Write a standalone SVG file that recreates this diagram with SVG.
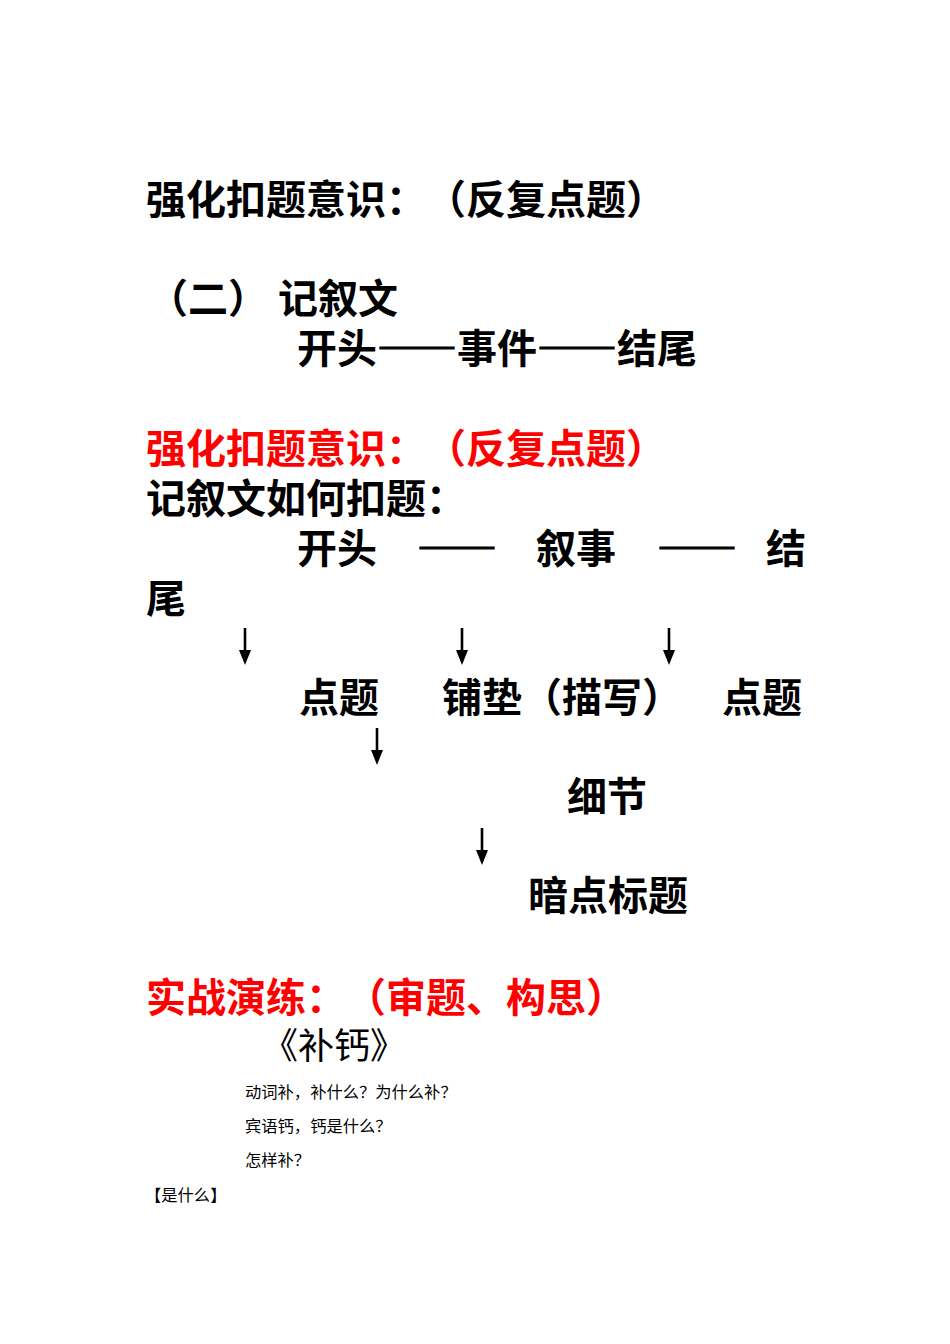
<svg xmlns="http://www.w3.org/2000/svg" width="950" height="1344" viewBox="0 0 950 1344" xml:lang="zh-CN" lang="zh-CN">
<style>
text{text-spacing-trim:space-all;font-kerning:none}
.h{font-family:"Noto Sans CJK SC","Noto Sans CJK JP",sans-serif;font-size:40px;font-weight:700;fill:#000}
.r{fill:#ff0000}
.d{stroke:#000;stroke-width:1.2}
.t{font-family:"Noto Sans CJK SC","Noto Sans CJK JP",sans-serif;font-size:36px;font-weight:400;fill:#000}
.s{font-family:"Noto Sans CJK SC","Noto Sans CJK JP",sans-serif;font-size:16.3px;font-weight:400;fill:#000}
.a{stroke:#000;stroke-width:2.6;fill:none}
</style>
<defs>
<marker id="ah" viewBox="0 0 15 12" refX="0" refY="6" markerWidth="15" markerHeight="12" markerUnits="userSpaceOnUse" orient="auto">
<path d="M0,0 L15,6 L0,12 Z" fill="#000"/>
</marker>
</defs>
<rect width="950" height="1344" fill="#fff"/>
<g id="title1"><text class="h" x="146" y="214">强化扣题意识：（反复点题）</text></g>
<g id="section2"><text class="h" x="148" y="313">（二）<tspan x="278">记叙文</tspan></text></g>
<g id="structure1"><text class="h" x="297" y="363">开头<tspan class="d" x="377">——</tspan><tspan x="457">事件</tspan><tspan class="d" x="537">——</tspan><tspan x="617">结尾</tspan></text></g>
<g id="title2"><text class="h r" x="146" y="463">强化扣题意识：（反复点题）</text></g>
<g id="howto"><text class="h" x="146" y="513">记叙文如何扣题：</text></g>
<g id="structure2"><text class="h" x="297" y="563">开头<tspan class="d" x="417">——</tspan><tspan x="536">叙事</tspan><tspan class="d" x="657">——</tspan><tspan x="766">结</tspan></text>
<text class="h" x="146" y="613">尾</text></g>
<g id="node-dianti1"><text class="h" x="299" y="712">点题</text></g>
<g id="node-pudian"><text class="h" x="442" y="712">铺垫（描写）</text></g>
<g id="node-dianti2"><text class="h" x="722" y="712">点题</text></g>
<g id="node-xijie"><text class="h" x="567" y="811">细节</text></g>
<g id="node-andian"><text class="h" x="528" y="910">暗点标题</text></g>
<g id="practice"><text class="h r" x="146" y="1012">实战演练：（审题、构思）</text></g>
<g id="essay-title"><text class="t" x="262" y="1059">《补钙》</text></g>
<g id="questions">
<text class="s" x="245" y="1098">动词补，补什么？为什么补？</text>
<text class="s" x="245" y="1132">宾语钙，钙是什么？</text>
<text class="s" x="245" y="1166">怎样补？</text>
<text class="s" x="145" y="1201">【是什么】</text>
</g>
<g id="connectors">
<line class="a" x1="245" y1="628" x2="245" y2="650" marker-end="url(#ah)"/>
<line class="a" x1="462" y1="628" x2="462" y2="650" marker-end="url(#ah)"/>
<line class="a" x1="669" y1="628" x2="669" y2="650" marker-end="url(#ah)"/>
<line class="a" x1="377" y1="728" x2="377" y2="750" marker-end="url(#ah)"/>
<line class="a" x1="482" y1="828" x2="482" y2="850" marker-end="url(#ah)"/>
</g>
</svg>
